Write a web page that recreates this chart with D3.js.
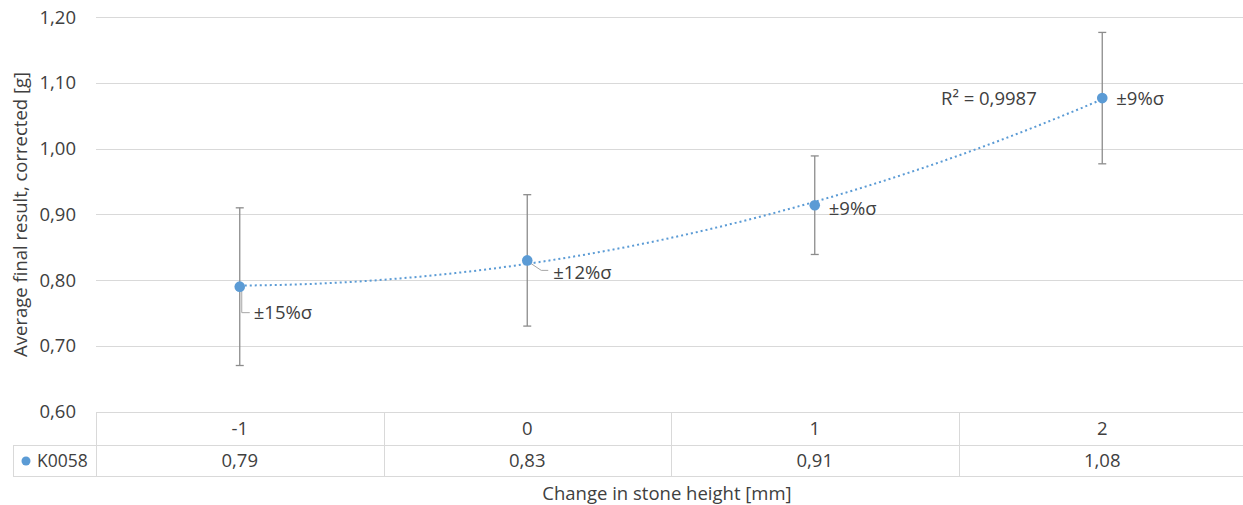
<!DOCTYPE html>
<html>
<head>
<meta charset="utf-8">
<script src="https://cdn.jsdelivr.net/npm/d3@7"></script>
<style>
  body { margin: 0; background: #fff; }
  text { font-family: "Open Sans", sans-serif; fill: #404040; }
</style>
</head>
<body>
<div id="chart"></div>
<script>
var categories = ["-1", "0", "1", "2"];
var xValues = [-1, 0, 1, 2];
var seriesName = "K0058";
var values = [0.79, 0.83, 0.914, 1.077];
var tableValues = ["0,79", "0,83", "0,91", "1,08"];
var errors = [0.12, 0.10, 0.075, 0.10];
var pointLabels = ["±15%σ", "±12%σ", "±9%σ", "±9%σ"];
var yTicks = [0.6, 0.7, 0.8, 0.9, 1.0, 1.1, 1.2];
var r2Label = "R² = 0,9987";
var yTitle = "Average final result, corrected [g]";
var xTitle = "Change in stone height [mm]";

var width = 1243;
var height = 505;
var margin = {left: 96, right: -3, top: 17.3, bottom: 93.5};
var fontSize = 18.5;
var blue = "#5b9bd5";
var gridColor = "#d9d9d9";

var svg = d3.select("#chart")
    .append("svg")
    .attr("width", width)
    .attr("height", height);

var x = d3.scaleBand()
    .domain(categories)
    .range([margin.left, width - margin.right])
    .padding(0);

var y = d3.scaleLinear()
    .domain([0.6, 1.2])
    .range([height - margin.bottom, margin.top]);

var cx = function(c) { return x(c) + x.bandwidth() / 2; };

//numeric x for the trendline
var xNum = d3.scaleLinear()
    .domain([xValues[0], xValues[xValues.length - 1]])
    .range([cx(categories[0]), cx(categories[categories.length - 1])]);

//gridlines (0.60 is the top border of the data table)
svg.append("g")
    .selectAll("line")
    .data(yTicks)
    .enter()
    .append("line")
    .attr("x1", margin.left)
    .attr("x2", width - margin.right)
    .attr("y1", function(d) { return Math.round(y(d)) + 0.5; })
    .attr("y2", function(d) { return Math.round(y(d)) + 0.5; })
    .style("stroke", gridColor)
    .style("stroke-width", 1);

//y tick labels
svg.append("g")
    .selectAll("text")
    .data(yTicks)
    .enter()
    .append("text")
    .attr("x", 76)
    .attr("y", function(d) { return y(d); })
    .attr("dy", "0.35em")
    .attr("text-anchor", "end")
    .style("font-size", fontSize + "px")
    .text(function(d) { return d.toFixed(2).replace(".", ","); });

//data table
var tableTop = y(0.6);
var rowH = 33;
var row1 = Math.round(tableTop + rowH) + 0.5;
var row2 = Math.round(tableTop + rowH * 2 - 1.5) + 0.5;
var table = svg.append("g");

[row1, row2].forEach(function(ry) {
    table.append("line")
        .attr("x1", 13).attr("x2", width - margin.right)
        .attr("y1", ry).attr("y2", ry)
        .style("stroke", gridColor);
});

table.selectAll(".vline")
    .data(categories)
    .enter()
    .append("line")
    .attr("class", "vline")
    .attr("x1", function(d) { return Math.round(x(d)) + 0.5; })
    .attr("x2", function(d) { return Math.round(x(d)) + 0.5; })
    .attr("y1", Math.round(tableTop))
    .attr("y2", row2)
    .style("stroke", gridColor);

table.append("line")
    .attr("x1", 13.5).attr("x2", 13.5)
    .attr("y1", row1).attr("y2", row2)
    .style("stroke", gridColor);

table.selectAll(".cat")
    .data(categories)
    .enter()
    .append("text")
    .attr("class", "cat")
    .attr("x", cx)
    .attr("y", (tableTop + row1) / 2)
    .attr("dy", "0.35em")
    .attr("text-anchor", "middle")
    .style("font-size", fontSize + "px")
    .text(function(d) { return d; });

table.selectAll(".val")
    .data(tableValues)
    .enter()
    .append("text")
    .attr("class", "val")
    .attr("x", function(d, i) { return cx(categories[i]); })
    .attr("y", (row1 + row2) / 2)
    .attr("dy", "0.35em")
    .attr("text-anchor", "middle")
    .style("font-size", fontSize + "px")
    .text(function(d) { return d; });

table.append("circle")
    .attr("cx", 26)
    .attr("cy", (row1 + row2) / 2)
    .attr("r", 4.5)
    .style("fill", blue);

table.append("text")
    .attr("x", 37)
    .attr("y", (row1 + row2) / 2)
    .attr("dy", "0.35em")
    .style("font-size", "17.5px")
    .text(seriesName);

//polynomial (order 2) trendline, least squares like excel
function quadFit(xs, ys)
{
    var n = xs.length, s = [0, 0, 0, 0, 0], t = [0, 0, 0];
    for (var i = 0; i < n; i++) {
        for (var k = 0; k < 5; k++) s[k] += Math.pow(xs[i], k);
        for (var k2 = 0; k2 < 3; k2++) t[k2] += ys[i] * Math.pow(xs[i], k2);
    }
    var m = [[s[0], s[1], s[2], t[0]], [s[1], s[2], s[3], t[1]], [s[2], s[3], s[4], t[2]]];
    for (var c = 0; c < 3; c++) {
        for (var r = c + 1; r < 3; r++) {
            var f = m[r][c] / m[c][c];
            for (var j = c; j < 4; j++) m[r][j] -= f * m[c][j];
        }
    }
    var b = [0, 0, 0];
    for (var r2 = 2; r2 >= 0; r2--) {
        var sum = m[r2][3];
        for (var j2 = r2 + 1; j2 < 3; j2++) sum -= m[r2][j2] * b[j2];
        b[r2] = sum / m[r2][r2];
    }
    return function(v) { return b[0] + b[1] * v + b[2] * v * v; };
}

var trend = quadFit(xValues, values);
var trendX = d3.range(xValues[0], xValues[xValues.length - 1] + 0.001, 0.05);

svg.append("path")
    .datum(trendX)
    .attr("d", d3.line()
        .x(function(d) { return xNum(d); })
        .y(function(d) { return y(trend(d)); })
        .curve(d3.curveMonotoneX))
    .style("fill", "none")
    .style("stroke", blue)
    .style("stroke-width", 2)
    .style("stroke-dasharray", "2,3");

//error bars
var bars = svg.append("g").style("stroke", "#8c8c8c").style("stroke-width", 1.3);
values.forEach(function(v, i) {
    var px = cx(categories[i]);
    bars.append("line").attr("x1", px).attr("x2", px)
        .attr("y1", y(v + errors[i])).attr("y2", y(v - errors[i]));
    [v + errors[i], v - errors[i]].forEach(function(e) {
        bars.append("line").attr("x1", px - 4).attr("x2", px + 4)
            .attr("y1", y(e)).attr("y2", y(e));
    });
});

//leader lines for the first two labels
var leaders = [
    [[2, 3], [2, 26], [10, 26]],
    [[2, 2], [14, 10], [21, 10]],
    null,
    null
];
var labelOffset = [[14, 26], [26, 12], [14, 3], [14, 0]];

leaders.forEach(function(l, i) {
    if (!l) return;
    var px = cx(categories[i]), py = y(values[i]);
    svg.append("path")
        .attr("d", d3.line()(l.map(function(p) { return [px + p[0], py + p[1]]; })))
        .style("fill", "none")
        .style("stroke", "#a6a6a6")
        .style("stroke-width", 1);
});

//points
svg.selectAll(".pt")
    .data(values)
    .enter()
    .append("circle")
    .attr("class", "pt")
    .attr("cx", function(d, i) { return cx(categories[i]); })
    .attr("cy", function(d) { return y(d); })
    .attr("r", 5.3)
    .style("fill", blue);

//point labels
svg.selectAll(".lbl")
    .data(pointLabels)
    .enter()
    .append("text")
    .attr("class", "lbl")
    .attr("x", function(d, i) { return cx(categories[i]) + labelOffset[i][0]; })
    .attr("y", function(d, i) { return y(values[i]) + labelOffset[i][1]; })
    .attr("dy", "0.35em")
    .style("font-size", fontSize + "px")
    .text(function(d) { return d; });

//R squared
svg.append("text")
    .attr("x", 941)
    .attr("y", y(values[3]))
    .attr("dy", "0.35em")
    .style("font-size", fontSize + "px")
    .text(r2Label);

//axis titles
svg.append("text")
    .attr("x", (margin.left + width - margin.right) / 2 - 4)
    .attr("y", 494)
    .attr("dy", "0.35em")
    .attr("text-anchor", "middle")
    .style("font-size", fontSize + "px")
    .text(xTitle);

svg.append("text")
    .attr("transform", "translate(21," + ((margin.top + height - margin.bottom) / 2) + ") rotate(-90)")
    .attr("dy", "0.35em")
    .attr("text-anchor", "middle")
    .style("font-size", fontSize + "px")
    .text(yTitle);
</script>
</body>
</html>
